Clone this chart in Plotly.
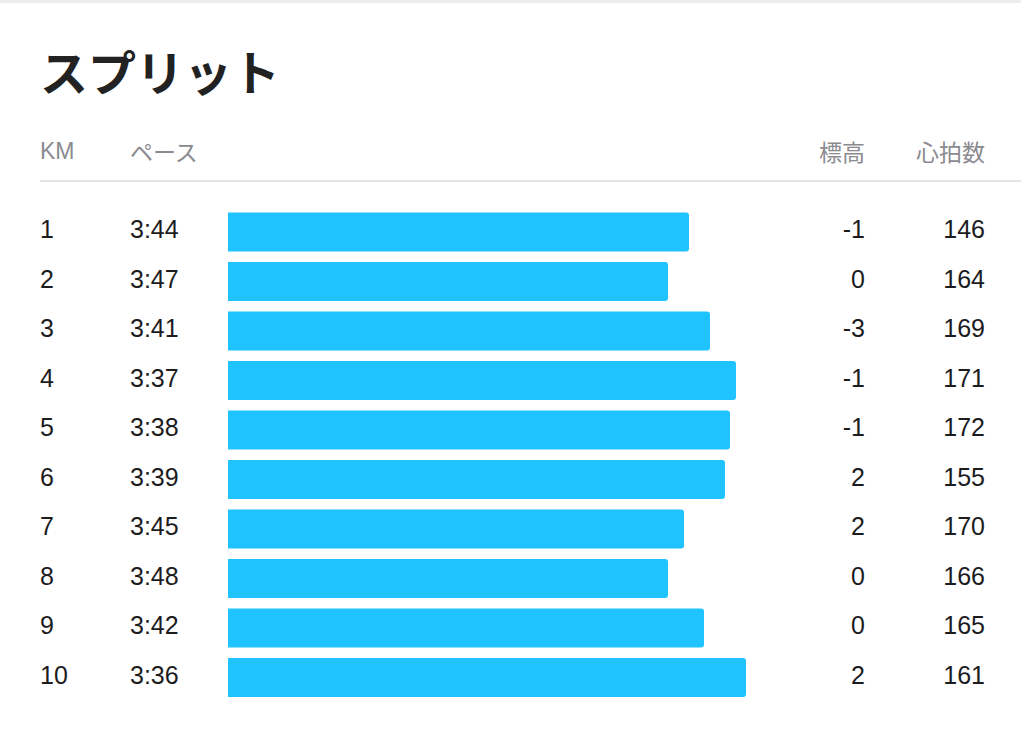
import plotly.graph_objects as go

# ---- data ----
km = [1, 2, 3, 4, 5, 6, 7, 8, 9, 10]
pace = ["3:44", "3:47", "3:41", "3:37", "3:38", "3:39", "3:45", "3:48", "3:42", "3:36"]
bar_values = [461, 440, 482, 508, 502, 497, 456, 440, 476, 518]
elevation = [-1, 0, -3, -1, -1, 2, 2, 0, 0, 2]
heart_rate = [146, 164, 169, 171, 172, 155, 170, 166, 165, 161]
headers = ["KM", "ペース", "標高", "心拍数"]
title = "スプリット"

W, H = 1024, 735
ROW0, ROWSTEP = 232, 49.5  # pixel centre of row 1 and row pitch
y_top = 1 + (0 - ROW0) / ROWSTEP
y_bot = 1 + (H - ROW0) / ROWSTEP

NUM_FONT = "Liberation Sans, Noto Sans CJK JP, sans-serif"
JP_FONT = "Noto Sans CJK JP, Liberation Sans, sans-serif"
TXT = "#1c1c1e"
GRAY = "#8a8a8f"
BAR = "#1fc3ff"

fig = go.Figure()

fig.add_trace(go.Bar(
    y=km, x=bar_values, orientation="h", xaxis="x2", yaxis="y",
    marker=dict(color=BAR, line=dict(width=0), cornerradius=3),
    width=0.79, hoverinfo="skip", showlegend=False,
))

def col(xpos, texts, pos):
    fig.add_trace(go.Scatter(
        x=[xpos] * len(km), y=km, mode="text", text=texts,
        textposition=pos, textfont=dict(family=NUM_FONT, size=25, color=TXT),
        hoverinfo="skip", showlegend=False, xaxis="x", yaxis="y",
        cliponaxis=False,
    ))

col(40, [str(k) for k in km], "middle right")
col(130, pace, "middle right")
col(865, [str(e) for e in elevation], "middle left")
col(985, [str(h) for h in heart_rate], "middle left")

ann = [
    dict(text="<b>" + title + "</b>", x=38 / W, y=1 - 70 / H, xanchor="left", yanchor="middle",
         font=dict(family=JP_FONT, size=48, color="#222222")),
    dict(text=headers[0], x=38 / W, y=1 - 151 / H, xanchor="left", yanchor="middle",
         font=dict(family=NUM_FONT, size=23, color=GRAY)),
    dict(text=headers[1], x=128 / W, y=1 - 151 / H, xanchor="left", yanchor="middle",
         font=dict(family=JP_FONT, size=23, color=GRAY)),
    dict(text=headers[2], x=867 / W, y=1 - 151 / H, xanchor="right", yanchor="middle",
         font=dict(family=JP_FONT, size=23, color=GRAY)),
    dict(text=headers[3], x=987 / W, y=1 - 151 / H, xanchor="right", yanchor="middle",
         font=dict(family=JP_FONT, size=23, color=GRAY)),
]
for a in ann:
    a.update(xref="paper", yref="paper", showarrow=False)

shapes = [
    dict(type="line", xref="paper", yref="paper", x0=40 / W, x1=1021 / W,
         y0=1 - 181 / H, y1=1 - 181 / H, line=dict(color="#e3e3e6", width=2)),
    dict(type="line", xref="paper", yref="paper", x0=0, x1=1021 / W,
         y0=1 - 1.5 / H, y1=1 - 1.5 / H, line=dict(color="#ececee", width=3)),
]

fig.update_layout(
    width=W, height=H, margin=dict(l=0, r=0, t=0, b=0),
    paper_bgcolor="white", plot_bgcolor="rgba(0,0,0,0)",
    xaxis=dict(domain=[0, 1], range=[0, W], visible=False, fixedrange=True),
    xaxis2=dict(domain=[228 / W, 1], range=[0, W - 228], visible=False,
                anchor="y", fixedrange=True),
    yaxis=dict(range=[y_bot, y_top], visible=False, fixedrange=True),
    annotations=ann, shapes=shapes, showlegend=False,
)

fig.write_html("out.html", config={"displayModeBar": False},
               post_script="document.body.style.margin='0';")
